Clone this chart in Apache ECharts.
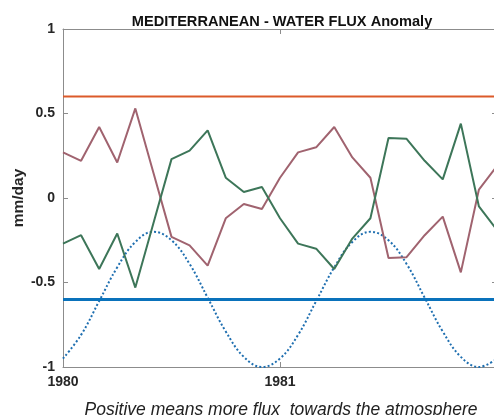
<!DOCTYPE html>
<html>
<head>
<meta charset="utf-8">
<title>Mediterranean water flux anomaly</title>
<script src="https://cdn.jsdelivr.net/npm/echarts@6/dist/echarts.min.js"></script>
<style>
  html, body { margin: 0; padding: 0; background: #ffffff; }
  #chart { width: 494px; height: 415px; }
</style>
</head>
<body>
<div id="chart"></div>
<script>
// Monthly samples, Jan 1980 .. Jan 1982
var months = [
  '1980-01','1980-02','1980-03','1980-04','1980-05','1980-06',
  '1980-07','1980-08','1980-09','1980-10','1980-11','1980-12',
  '1981-01','1981-02','1981-03','1981-04','1981-05','1981-06',
  '1981-07','1981-08','1981-09','1981-10','1981-11','1981-12',
  '1982-01'
];

// Flux anomaly (mm/day), green trace
var fluxA = [
  -0.27, -0.22, -0.42, -0.21, -0.53, -0.15, 0.23, 0.28, 0.40, 0.12, 0.035, 0.065,
  -0.12, -0.27, -0.30, -0.42, -0.24, -0.12, 0.355, 0.35, 0.22, 0.11, 0.44, -0.05,
  -0.19
];

// Opposite-sign flux anomaly (mm/day), mauve trace
var fluxB = [
  0.27, 0.22, 0.42, 0.21, 0.53, 0.15, -0.23, -0.28, -0.40, -0.12, -0.035, -0.065,
  0.12, 0.27, 0.30, 0.42, 0.24, 0.12, -0.355, -0.35, -0.22, -0.11, -0.44, 0.05,
  0.19
];

// Seasonal cycle reference (dotted)
var seasonal = [
  -0.95, -0.81, -0.61, -0.41, -0.26, -0.20, -0.25, -0.39, -0.59, -0.79, -0.94, -1.00,
  -0.95, -0.81, -0.61, -0.41, -0.26, -0.20, -0.25, -0.39, -0.59, -0.79, -0.94, -1.00,
  -0.95
];

// Threshold levels
var upperLevel = 0.6;
var lowerLevel = -0.6;

// Axis ticks
var xTicks = [1980, 1981, 1982];
var yTicks = [-1, -0.5, 0, 0.5, 1];

function toYear(m) {
  var p = m.split('-');
  return Number(p[0]) + (Number(p[1]) - 1) / 12;
}
var xs = months.map(toYear);
function pairs(vals) { return vals.map(function (v, i) { return [xs[i], v]; }); }
var xMin = xTicks[0], xMax = xTicks[xTicks.length - 1];

var axisGray = '#8c8c8c';
var labelColor = '#262626';
var fontFam = 'Liberation Sans, Arial, sans-serif';

var chart = echarts.init(document.getElementById('chart'), null, { renderer: 'canvas' });
chart.setOption({
  animation: false,
  backgroundColor: '#ffffff',
  title: [
    {
      text: 'MEDITERRANEAN - WATER FLUX Anomaly',
      left: 277, top: 9, textAlign: 'center',
      textStyle: { fontFamily: fontFam, fontSize: 14.6, fontWeight: 'bold', color: '#111111' }
    },
    {
      text: 'Positive means more flux  towards the atmosphere',
      left: 276, top: 396, textAlign: 'center',
      textStyle: { fontFamily: fontFam, fontSize: 17.5, fontStyle: 'italic', fontWeight: 'normal', color: '#222222' }
    }
  ],
  grid: { left: 63, top: 29, width: 434, height: 338, containLabel: false, outerBoundsMode: 'none' },
  xAxis: [
    {
      type: 'value', min: xMin, max: xMax, interval: 1,
      axisLine: { show: true, onZero: false, lineStyle: { color: axisGray, width: 1 } },
      axisTick: { show: true, inside: true, length: 5, lineStyle: { color: axisGray } },
      splitLine: { show: false },
      axisLabel: {
        color: labelColor, fontFamily: fontFam, fontSize: 14, fontWeight: 'bold', margin: 8,
        formatter: function (v) { return v === xMax ? '' : String(v); }
      }
    },
    {
      type: 'value', position: 'top', min: xMin, max: xMax, interval: 1,
      axisLine: { show: true, onZero: false, lineStyle: { color: axisGray, width: 1 } },
      axisTick: { show: true, inside: true, length: 5, lineStyle: { color: axisGray } },
      axisLabel: { show: false }, splitLine: { show: false }
    }
  ],
  yAxis: [
    {
      type: 'value', min: yTicks[0], max: yTicks[yTicks.length - 1], interval: 0.5,
      axisLine: { show: true, onZero: false, lineStyle: { color: axisGray, width: 1 } },
      axisTick: { show: true, inside: true, length: 5, lineStyle: { color: axisGray } },
      splitLine: { show: false },
      axisLabel: {
        color: labelColor, fontFamily: fontFam, fontSize: 14, fontWeight: 'bold', margin: 8,
        formatter: function (v) { return String(v); }
      },
      name: 'mm/day', nameLocation: 'middle', nameGap: 36, nameRotate: 90,
      nameMoveOverlap: false,
      nameTextStyle: { color: labelColor, fontFamily: fontFam, fontSize: 15.5, fontWeight: 'bold' }
    },
    {
      type: 'value', position: 'right', min: yTicks[0], max: yTicks[yTicks.length - 1], interval: 0.5,
      axisLine: { show: true, onZero: false, lineStyle: { color: axisGray, width: 1 } },
      axisTick: { show: true, inside: true, length: 5, lineStyle: { color: axisGray } },
      axisLabel: { show: false }, splitLine: { show: false }
    }
  ],
  series: [
    {
      name: 'seasonal', type: 'line', data: pairs(seasonal), smooth: 0.4,
      showSymbol: false, symbol: 'none',
      lineStyle: { color: '#1f6fb0', width: 2, type: [2, 2.2] }
    },
    {
      name: 'upper', type: 'line', data: [[xMin, upperLevel], [xMax, upperLevel]],
      showSymbol: false, symbol: 'none',
      lineStyle: { color: '#dc5a2a', width: 2 }
    },
    {
      name: 'lower', type: 'line', data: [[xMin, lowerLevel], [xMax, lowerLevel]],
      showSymbol: false, symbol: 'none',
      lineStyle: { color: '#0a72bb', width: 3 }
    },
    {
      name: 'fluxB', type: 'line', data: pairs(fluxB),
      showSymbol: false, symbol: 'none',
      lineStyle: { color: '#a0636f', width: 2 }
    },
    {
      name: 'fluxA', type: 'line', data: pairs(fluxA),
      showSymbol: false, symbol: 'none',
      lineStyle: { color: '#3d7659', width: 2 }
    }
  ]
});
</script>
</body>
</html>
